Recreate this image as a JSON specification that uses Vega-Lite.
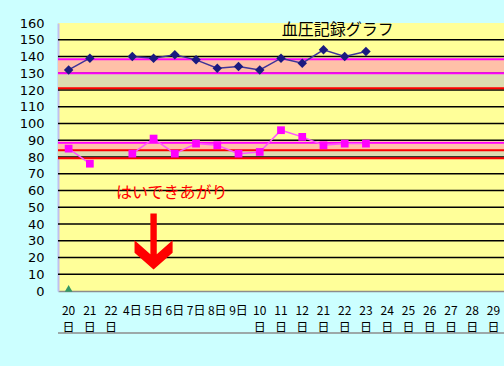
{
  "$schema": "https://vega.github.io/schema/vega-lite/v6.json",
  "width": 446,
  "height": 268,
  "autosize": "none",
  "padding": {"left": 58, "top": 23, "right": 0, "bottom": 75},
  "background": "#CCFFFF",
  "config": {"view": {"fill": "#FFFF99", "stroke": null}, "font": "Noto Sans CJK JP"},
  "datasets": {
    "bands": [
      {"band": "upperOlive", "lo": 121, "hi": 130},
      {"band": "upperPink", "lo": 130, "hi": 138.3},
      {"band": "lowerPink", "lo": 84, "hi": 88.5},
      {"band": "lowerOlive", "lo": 79.5, "hi": 84}
    ],
    "edges": [
      {"edge": "red", "t": 121},
      {"edge": "red", "t": 79.3},
      {"edge": "red", "t": 84},
      {"edge": "magenta", "t": 130},
      {"edge": "magenta", "t": 138.3},
      {"edge": "magenta", "t": 88.5}
    ],
    "grid": [
      {"t": 10}, {"t": 20}, {"t": 30}, {"t": 40}, {"t": 50}, {"t": 60}, {"t": 70}, {"t": 80},
      {"t": 90}, {"t": 100}, {"t": 110}, {"t": 120}, {"t": 130}, {"t": 140}, {"t": 150}
    ],
    "xticks": [
      {"i": 1}, {"i": 2}, {"i": 3}, {"i": 4}, {"i": 5}, {"i": 6}, {"i": 7}, {"i": 8}, {"i": 9}, {"i": 10},
      {"i": 11}, {"i": 12}, {"i": 13}, {"i": 14}, {"i": 15}, {"i": 16}, {"i": 17}, {"i": 18}, {"i": 19}, {"i": 20}
    ],
    "bp": [
      {"i": 0, "s": "最高血圧", "v": 132}, {"i": 1, "s": "最高血圧", "v": 139}, {"i": 2, "s": "最高血圧", "v": null},
      {"i": 3, "s": "最高血圧", "v": 140}, {"i": 4, "s": "最高血圧", "v": 139}, {"i": 5, "s": "最高血圧", "v": 141},
      {"i": 6, "s": "最高血圧", "v": 138}, {"i": 7, "s": "最高血圧", "v": 133}, {"i": 8, "s": "最高血圧", "v": 134},
      {"i": 9, "s": "最高血圧", "v": 132}, {"i": 10, "s": "最高血圧", "v": 139}, {"i": 11, "s": "最高血圧", "v": 136},
      {"i": 12, "s": "最高血圧", "v": 144}, {"i": 13, "s": "最高血圧", "v": 140}, {"i": 14, "s": "最高血圧", "v": 143},
      {"i": 0, "s": "最低血圧", "v": 85}, {"i": 1, "s": "最低血圧", "v": 76}, {"i": 2, "s": "最低血圧", "v": null},
      {"i": 3, "s": "最低血圧", "v": 82}, {"i": 4, "s": "最低血圧", "v": 91}, {"i": 5, "s": "最低血圧", "v": 82},
      {"i": 6, "s": "最低血圧", "v": 88}, {"i": 7, "s": "最低血圧", "v": 87}, {"i": 8, "s": "最低血圧", "v": 82},
      {"i": 9, "s": "最低血圧", "v": 83}, {"i": 10, "s": "最低血圧", "v": 96}, {"i": 11, "s": "最低血圧", "v": 92},
      {"i": 12, "s": "最低血圧", "v": 87}, {"i": 13, "s": "最低血圧", "v": 88}, {"i": 14, "s": "最低血圧", "v": 88}
    ]
  },
  "resolve": {"scale": {"fill": "independent", "stroke": "independent", "color": "independent", "shape": "independent"}},
  "layer": [
    {
      "data": {"name": "bands"},
      "mark": {"type": "rect"},
      "encoding": {
        "y": {"field": "lo", "type": "quantitative", "scale": {"domain": [0, 160], "nice": false},
          "axis": {
            "title": null, "values": [0,10,20,30,40,50,60,70,80,90,100,110,120,130,140,150,160],
            "ticks": false, "labelFontSize": 13, "labelColor": "#000000", "labelPadding": 14,
            "labelFont": "DejaVu Sans", "domainColor": "#C0C0F0", "domainWidth": 2, "grid": false
          }},
        "y2": {"field": "hi"},
        "fill": {"field": "band", "type": "nominal", "legend": null,
          "scale": {"domain": ["upperOlive", "upperPink", "lowerPink", "lowerOlive"], "range": ["#DCDCB0", "#FFC0A8", "#FFC0A8", "#DCDCB0"]}}
      }
    },
    {
      "data": {"name": "grid"},
      "mark": {"type": "rule", "color": "#000000", "strokeWidth": 1.5},
      "encoding": {
        "y": {"field": "t", "type": "quantitative", "scale": {"domain": [0, 160], "nice": false},
          "axis": {
            "title": null, "values": [0,10,20,30,40,50,60,70,80,90,100,110,120,130,140,150,160],
            "ticks": false, "labelFontSize": 13, "labelColor": "#000000", "labelPadding": 14,
            "labelFont": "DejaVu Sans", "domainColor": "#C0C0F0", "domainWidth": 2, "grid": false
          }}
      }
    },
    {
      "data": {"name": "edges"},
      "mark": {"type": "rule", "strokeWidth": 2},
      "encoding": {
        "y": {"field": "t", "type": "quantitative", "scale": {"domain": [0, 160], "nice": false},
          "axis": {
            "title": null, "values": [0,10,20,30,40,50,60,70,80,90,100,110,120,130,140,150,160],
            "ticks": false, "labelFontSize": 13, "labelColor": "#000000", "labelPadding": 14,
            "labelFont": "DejaVu Sans", "domainColor": "#C0C0F0", "domainWidth": 2, "grid": false
          }},
        "stroke": {"field": "edge", "type": "nominal", "legend": null,
          "scale": {"domain": ["red", "magenta"], "range": ["#FF0000", "#FF00FF"]}}
      }
    },
    {
      "data": {"values": [{"t": -25}]},
      "mark": {"type": "rule", "color": "#8C8C8C", "strokeWidth": 1.5, "clip": false},
      "encoding": {
        "y": {"field": "t", "type": "quantitative", "scale": {"domain": [0, 160], "nice": false},
          "axis": {
            "title": null, "values": [0,10,20,30,40,50,60,70,80,90,100,110,120,130,140,150,160],
            "ticks": false, "labelFontSize": 13, "labelColor": "#000000", "labelPadding": 14,
            "labelFont": "DejaVu Sans", "domainColor": "#C0C0F0", "domainWidth": 2, "grid": false
          }}
      }
    },
    {
      "encoding": {
        "x": {
          "field": "i", "type": "ordinal",
          "scale": {"type": "band", "domain": [0,1,2,3,4,5,6,7,8,9,10,11,12,13,14,15,16,17,18,19,20], "paddingInner": 0, "paddingOuter": 0},
          "axis": {
            "title": null,
            "labelExpr": "[['20','日'],['21','日'],['22','日'],'4日','5日','6日','7日','8日','9日',['10','日'],['11','日'],['12','日'],['21','日'],['22','日'],['23','日'],['24','日'],['25','日'],['26','日'],['27','日'],['28','日'],['29','日']][datum.value]",
            "labelAngle": 0, "labelFontSize": 12, "labelColor": "#000000", "labelLineHeight": 17,
            "labelBaseline": "top", "labelPadding": 14, "labelFont": "Noto Sans CJK JP",
            "ticks": false,
            "domainColor": "#8C8C8C", "domainWidth": 1.5, "grid": false
          }
        },
        "y": {
          "field": "v", "type": "quantitative",
          "scale": {"domain": [0, 160], "nice": false},
          "axis": {
            "title": null, "values": [0,10,20,30,40,50,60,70,80,90,100,110,120,130,140,150,160],
            "ticks": false, "labelFontSize": 13, "labelColor": "#000000", "labelPadding": 14,
            "labelFont": "DejaVu Sans", "domainColor": "#C0C0F0", "domainWidth": 2, "grid": false
          }
        }
      },
      "layer": [
        {
          "data": {"name": "xticks"},
          "mark": {"type": "rule", "color": "#000000", "strokeWidth": 1.5},
          "encoding": {
            "x": {"field": "i", "type": "ordinal", "bandPosition": 0,
              "scale": {"type": "band", "domain": [0,1,2,3,4,5,6,7,8,9,10,11,12,13,14,15,16,17,18,19,20], "paddingInner": 0, "paddingOuter": 0}},
            "y": {"datum": 0},
            "y2": {"datum": 3}
          }
        },
        {
          "data": {"values": [{"i": 0}]},
          "mark": {"type": "rule", "color": "#8C8C8C", "strokeWidth": 1.5, "clip": false},
          "encoding": {
            "x": {"field": "i", "type": "ordinal", "bandPosition": 0,
              "scale": {"type": "band", "domain": [0,1,2,3,4,5,6,7,8,9,10,11,12,13,14,15,16,17,18,19,20], "paddingInner": 0, "paddingOuter": 0}},
            "y": {"datum": 0},
            "y2": {"datum": -25}
          }
        },
        {
          "data": {"name": "bp"},
          "mark": {"type": "line", "strokeWidth": 1.5, "invalid": "break-paths-show-domains"},
          "encoding": {
            "color": {"field": "s", "type": "nominal", "legend": null,
              "scale": {"domain": ["最高血圧", "最低血圧"], "range": ["#3F3399", "#FF55FF"]}}
          }
        },
        {
          "data": {"name": "bp"},
          "mark": {"type": "point", "filled": true, "opacity": 1},
          "encoding": {
            "fill": {"field": "s", "type": "nominal", "legend": null,
              "scale": {"domain": ["最高血圧", "最低血圧"], "range": ["#1A1A80", "#FF00FF"]}},
            "shape": {"field": "s", "type": "nominal", "legend": null,
              "scale": {"domain": ["最高血圧", "最低血圧"], "range": ["diamond", "square"]}},
            "size": {"field": "s", "type": "nominal", "legend": null,
              "scale": {"domain": ["最高血圧", "最低血圧"], "range": [90, 60]}}
          }
        },
        {
          "data": {"values": [{"i": 0, "v": 1.6}]},
          "mark": {"type": "point", "shape": "triangle-up", "filled": true, "color": "#339966", "size": 60, "opacity": 1}
        },
        {
          "data": {"values": [{"i": 13, "v": 155.8, "txt": "血圧記録グラフ"}]},
          "mark": {"type": "text", "fontSize": 16, "color": "#000000", "dx": -7, "font": "Noto Sans CJK JP"},
          "encoding": {"text": {"field": "txt"}}
        },
        {
          "data": {"values": [{"i": 5, "v": 58.5, "txt": "はいできあがり"}]},
          "mark": {"type": "text", "fontSize": 16, "color": "#FF0000", "dx": -3, "font": "Noto Sans CJK JP"},
          "encoding": {"text": {"field": "txt"}}
        },
        {
          "data": {"values": [{"i": 4, "v": 29.5}]},
          "mark": {"type": "point", "filled": true, "color": "#FF0000", "opacity": 1, "size": 3136,
            "shape": "M-0.114,-1 L0.114,-1 L0.114,0.45 L0.68,-0.05 L0.68,0.4 L0,1 L-0.68,0.4 L-0.68,-0.05 L-0.114,0.45 Z"}
        }
      ]
    }
  ]
}
